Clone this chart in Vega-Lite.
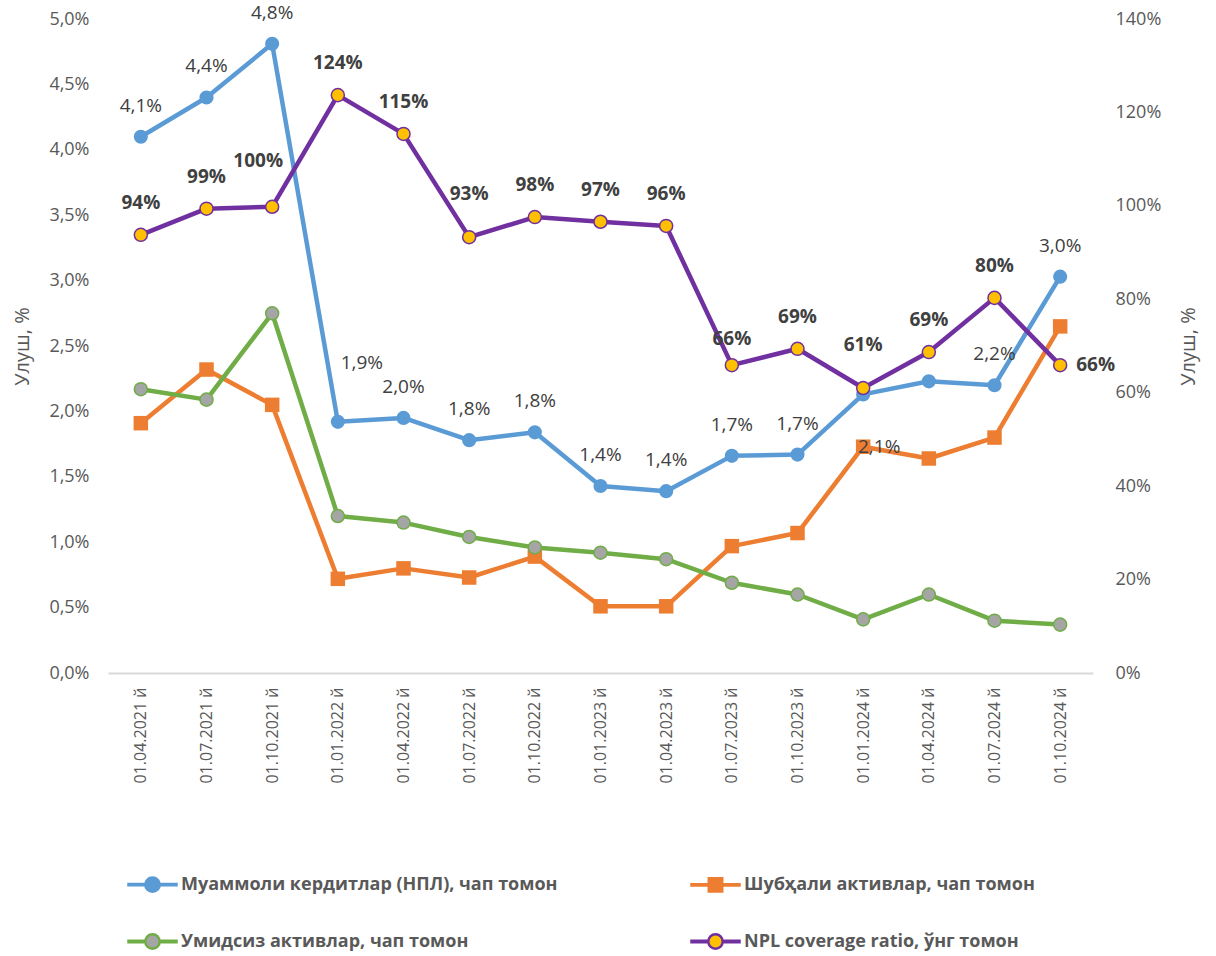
{
  "$schema": "https://vega.github.io/schema/vega-lite/v6.json",
  "width": 985,
  "height": 654,
  "autosize": {"type": "none"},
  "padding": {"left": 108, "top": 19, "right": 123, "bottom": 283},
  "background": "white",
  "config": {
    "locale": {"number": {"decimal": ",", "thousands": " ", "grouping": [3], "currency": ["", ""]}},
    "view": {"stroke": null},
    "font": "Open Sans",
    "axis": {"grid": false, "ticks": false, "labelFont": "Open Sans", "labelColor": "#595959", "titleColor": "#595959", "titleFont": "Open Sans", "titleFontWeight": "normal"},
    "legend": {
      "orient": "none", "legendX": 19, "legendY": 840, "direction": "horizontal", "columns": 2,
      "columnPadding": 128, "rowPadding": 19, "padding": 0, "labelLimit": 600,
      "labelFont": "Open Sans", "labelFontWeight": "bold", "labelFontSize": 18, "labelColor": "#595959",
      "symbolSize": 2304, "labelOffset": 3, "symbolStrokeWidth": 2.5, "symbolOpacity": 1
    }
  },
  "data": {"values": [
    {"date": "01.04.2021 й", "series": "Муаммоли кердитлар (НПЛ), чап томон", "value": 4.10, "label": "4,1%"},
    {"date": "01.07.2021 й", "series": "Муаммоли кердитлар (НПЛ), чап томон", "value": 4.40, "label": "4,4%"},
    {"date": "01.10.2021 й", "series": "Муаммоли кердитлар (НПЛ), чап томон", "value": 4.81, "label": "4,8%"},
    {"date": "01.01.2022 й", "series": "Муаммоли кердитлар (НПЛ), чап томон", "value": 1.92, "label": "1,9%"},
    {"date": "01.04.2022 й", "series": "Муаммоли кердитлар (НПЛ), чап томон", "value": 1.95, "label": "2,0%"},
    {"date": "01.07.2022 й", "series": "Муаммоли кердитлар (НПЛ), чап томон", "value": 1.78, "label": "1,8%"},
    {"date": "01.10.2022 й", "series": "Муаммоли кердитлар (НПЛ), чап томон", "value": 1.84, "label": "1,8%"},
    {"date": "01.01.2023 й", "series": "Муаммоли кердитлар (НПЛ), чап томон", "value": 1.43, "label": "1,4%"},
    {"date": "01.04.2023 й", "series": "Муаммоли кердитлар (НПЛ), чап томон", "value": 1.39, "label": "1,4%"},
    {"date": "01.07.2023 й", "series": "Муаммоли кердитлар (НПЛ), чап томон", "value": 1.66, "label": "1,7%"},
    {"date": "01.10.2023 й", "series": "Муаммоли кердитлар (НПЛ), чап томон", "value": 1.67, "label": "1,7%"},
    {"date": "01.01.2024 й", "series": "Муаммоли кердитлар (НПЛ), чап томон", "value": 2.13, "label": "2,1%"},
    {"date": "01.04.2024 й", "series": "Муаммоли кердитлар (НПЛ), чап томон", "value": 2.23, "label": ""},
    {"date": "01.07.2024 й", "series": "Муаммоли кердитлар (НПЛ), чап томон", "value": 2.20, "label": "2,2%"},
    {"date": "01.10.2024 й", "series": "Муаммоли кердитлар (НПЛ), чап томон", "value": 3.03, "label": "3,0%"},
    {"date": "01.04.2021 й", "series": "Шубҳали активлар, чап томон", "value": 1.91, "label": ""},
    {"date": "01.07.2021 й", "series": "Шубҳали активлар, чап томон", "value": 2.32, "label": ""},
    {"date": "01.10.2021 й", "series": "Шубҳали активлар, чап томон", "value": 2.05, "label": ""},
    {"date": "01.01.2022 й", "series": "Шубҳали активлар, чап томон", "value": 0.72, "label": ""},
    {"date": "01.04.2022 й", "series": "Шубҳали активлар, чап томон", "value": 0.80, "label": ""},
    {"date": "01.07.2022 й", "series": "Шубҳали активлар, чап томон", "value": 0.73, "label": ""},
    {"date": "01.10.2022 й", "series": "Шубҳали активлар, чап томон", "value": 0.89, "label": ""},
    {"date": "01.01.2023 й", "series": "Шубҳали активлар, чап томон", "value": 0.51, "label": ""},
    {"date": "01.04.2023 й", "series": "Шубҳали активлар, чап томон", "value": 0.51, "label": ""},
    {"date": "01.07.2023 й", "series": "Шубҳали активлар, чап томон", "value": 0.97, "label": ""},
    {"date": "01.10.2023 й", "series": "Шубҳали активлар, чап томон", "value": 1.07, "label": ""},
    {"date": "01.01.2024 й", "series": "Шубҳали активлар, чап томон", "value": 1.73, "label": ""},
    {"date": "01.04.2024 й", "series": "Шубҳали активлар, чап томон", "value": 1.64, "label": ""},
    {"date": "01.07.2024 й", "series": "Шубҳали активлар, чап томон", "value": 1.80, "label": ""},
    {"date": "01.10.2024 й", "series": "Шубҳали активлар, чап томон", "value": 2.65, "label": ""},
    {"date": "01.04.2021 й", "series": "Умидсиз активлар, чап томон", "value": 2.17, "label": ""},
    {"date": "01.07.2021 й", "series": "Умидсиз активлар, чап томон", "value": 2.09, "label": ""},
    {"date": "01.10.2021 й", "series": "Умидсиз активлар, чап томон", "value": 2.75, "label": ""},
    {"date": "01.01.2022 й", "series": "Умидсиз активлар, чап томон", "value": 1.20, "label": ""},
    {"date": "01.04.2022 й", "series": "Умидсиз активлар, чап томон", "value": 1.15, "label": ""},
    {"date": "01.07.2022 й", "series": "Умидсиз активлар, чап томон", "value": 1.04, "label": ""},
    {"date": "01.10.2022 й", "series": "Умидсиз активлар, чап томон", "value": 0.96, "label": ""},
    {"date": "01.01.2023 й", "series": "Умидсиз активлар, чап томон", "value": 0.92, "label": ""},
    {"date": "01.04.2023 й", "series": "Умидсиз активлар, чап томон", "value": 0.87, "label": ""},
    {"date": "01.07.2023 й", "series": "Умидсиз активлар, чап томон", "value": 0.69, "label": ""},
    {"date": "01.10.2023 й", "series": "Умидсиз активлар, чап томон", "value": 0.60, "label": ""},
    {"date": "01.01.2024 й", "series": "Умидсиз активлар, чап томон", "value": 0.41, "label": ""},
    {"date": "01.04.2024 й", "series": "Умидсиз активлар, чап томон", "value": 0.60, "label": ""},
    {"date": "01.07.2024 й", "series": "Умидсиз активлар, чап томон", "value": 0.40, "label": ""},
    {"date": "01.10.2024 й", "series": "Умидсиз активлар, чап томон", "value": 0.37, "label": ""},
    {"date": "01.04.2021 й", "series": "NPL coverage ratio, ўнг томон", "value": 93.8, "label": "94%"},
    {"date": "01.07.2021 й", "series": "NPL coverage ratio, ўнг томон", "value": 99.4, "label": "99%"},
    {"date": "01.10.2021 й", "series": "NPL coverage ratio, ўнг томон", "value": 99.8, "label": "100%"},
    {"date": "01.01.2022 й", "series": "NPL coverage ratio, ўнг томон", "value": 123.7, "label": "124%"},
    {"date": "01.04.2022 й", "series": "NPL coverage ratio, ўнг томон", "value": 115.4, "label": "115%"},
    {"date": "01.07.2022 й", "series": "NPL coverage ratio, ўнг томон", "value": 93.3, "label": "93%"},
    {"date": "01.10.2022 й", "series": "NPL coverage ratio, ўнг томон", "value": 97.6, "label": "98%"},
    {"date": "01.01.2023 й", "series": "NPL coverage ratio, ўнг томон", "value": 96.6, "label": "97%"},
    {"date": "01.04.2023 й", "series": "NPL coverage ratio, ўнг томон", "value": 95.7, "label": "96%"},
    {"date": "01.07.2023 й", "series": "NPL coverage ratio, ўнг томон", "value": 65.9, "label": "66%"},
    {"date": "01.10.2023 й", "series": "NPL coverage ratio, ўнг томон", "value": 69.4, "label": "69%"},
    {"date": "01.01.2024 й", "series": "NPL coverage ratio, ўнг томон", "value": 61.0, "label": "61%"},
    {"date": "01.04.2024 й", "series": "NPL coverage ratio, ўнг томон", "value": 68.7, "label": "69%"},
    {"date": "01.07.2024 й", "series": "NPL coverage ratio, ўнг томон", "value": 80.3, "label": "80%"},
    {"date": "01.10.2024 й", "series": "NPL coverage ratio, ўнг томон", "value": 65.9, "label": "66%"}
  ]},
  "encoding": {
    "x": {
      "field": "date", "type": "ordinal", "sort": null,
      "axis": {"title": null, "labelAngle": -90, "labelFontSize": 16, "labelPadding": 14, "domainColor": "#d9d9d9", "domainWidth": 2, "labelColor": "#595959"}
    }
  },
  "layer": [
    {
      "encoding": {
        "y": {
          "field": "value", "type": "quantitative",
          "scale": {"domain": [0, 5]},
          "axis": {"title": "Улуш, %", "values": [0, 0.5, 1, 1.5, 2, 2.5, 3, 3.5, 4, 4.5, 5], "format": ".1f", "labelExpr": "datum.label + '%'", "labelFontSize": 18, "labelPadding": 19, "domain": false, "titleFontSize": 20, "titlePadding": 16}
        }
      },
      "layer": [
        {
          "transform": [{"filter": "datum.date === '01.04.2021 й'"}],
          "mark": {"type": "point", "filled": true, "opacity": 0},
          "encoding": {
            "fill": {
              "field": "series", "type": "nominal",
              "scale": {
                "domain": ["Муаммоли кердитлар (НПЛ), чап томон", "Шубҳали активлар, чап томон", "Умидсиз активлар, чап томон", "NPL coverage ratio, ўнг томон"],
                "range": ["#5B9BD5", "#ED7D31", "#A5A5A5", "#FFC000"]
              },
              "legend": {"title": null}
            },
            "stroke": {
              "field": "series", "type": "nominal",
              "scale": {
                "domain": ["Муаммоли кердитлар (НПЛ), чап томон", "Шубҳали активлар, чап томон", "Умидсиз активлар, чап томон", "NPL coverage ratio, ўнг томон"],
                "range": ["#5B9BD5", "#ED7D31", "#70AD47", "#7030A0"]
              },
              "legend": {"title": null}
            },
            "shape": {
              "field": "series", "type": "nominal",
              "scale": {
                "domain": ["Муаммоли кердитлар (НПЛ), чап томон", "Шубҳали активлар, чап томон", "Умидсиз активлар, чап томон", "NPL coverage ratio, ўнг томон"],
                "range": [
                  "M-1,-0.03L-0.3,-0.03L-0.3,0.03L-1,0.03Z M0.3,-0.03L1,-0.03L1,0.03L0.3,0.03Z M-0.3,0A0.3,0.3 0 1,0 0.3,0A0.3,0.3 0 1,0 -0.3,0Z",
                  "M-1,-0.03L-0.28,-0.03L-0.28,0.03L-1,0.03Z M0.28,-0.03L1,-0.03L1,0.03L0.28,0.03Z M-0.28,-0.28L0.28,-0.28L0.28,0.28L-0.28,0.28Z",
                  "M-1,-0.03L-0.3,-0.03L-0.3,0.03L-1,0.03Z M0.3,-0.03L1,-0.03L1,0.03L0.3,0.03Z M-0.3,0A0.3,0.3 0 1,0 0.3,0A0.3,0.3 0 1,0 -0.3,0Z",
                  "M-1,-0.03L-0.3,-0.03L-0.3,0.03L-1,0.03Z M0.3,-0.03L1,-0.03L1,0.03L0.3,0.03Z M-0.3,0A0.3,0.3 0 1,0 0.3,0A0.3,0.3 0 1,0 -0.3,0Z"
                ]
              },
              "legend": {"title": null}
            }
          }
        },
        {
          "transform": [{"filter": "datum.series === 'Муаммоли кердитлар (НПЛ), чап томон'"}],
          "mark": {"type": "line", "strokeWidth": 4.5, "strokeJoin": "round", "strokeCap": "round", "color": "#5B9BD5"}
        },
        {
          "transform": [{"filter": "datum.series === 'Шубҳали активлар, чап томон'"}],
          "mark": {"type": "line", "strokeWidth": 4.5, "strokeJoin": "round", "strokeCap": "round", "color": "#ED7D31"}
        },
        {
          "transform": [{"filter": "datum.series === 'Умидсиз активлар, чап томон'"}],
          "mark": {"type": "line", "strokeWidth": 4.5, "strokeJoin": "round", "strokeCap": "round", "color": "#70AD47"}
        },
        {
          "transform": [{"filter": "datum.series === 'Муаммоли кердитлар (НПЛ), чап томон'"}],
          "mark": {"type": "point", "shape": "circle", "filled": true, "size": 200, "color": "#5B9BD5", "opacity": 1}
        },
        {
          "transform": [{"filter": "datum.series === 'Шубҳали активлар, чап томон'"}],
          "mark": {"type": "point", "shape": "square", "filled": true, "size": 210, "color": "#ED7D31", "opacity": 1}
        },
        {
          "transform": [{"filter": "datum.series === 'Умидсиз активлар, чап томон'"}],
          "mark": {"type": "point", "shape": "circle", "filled": true, "size": 170, "fill": "#A5A5A5", "stroke": "#70AD47", "strokeWidth": 1.5, "opacity": 1}
        },
        {
          "transform": [{"filter": "datum.series === 'Муаммоли кердитлар (НПЛ), чап томон' && datum.label !== '' && datum.date !== '01.01.2022 й' && datum.date !== '01.01.2024 й'"}],
          "mark": {"type": "text", "fontSize": 19, "font": "Open Sans", "color": "#404040", "baseline": "middle", "dy": -31},
          "encoding": {"text": {"field": "label"}}
        },
        {
          "transform": [{"filter": "datum.series === 'Муаммоли кердитлар (НПЛ), чап томон' && datum.date === '01.01.2022 й'"}],
          "mark": {"type": "text", "fontSize": 19, "font": "Open Sans", "color": "#404040", "baseline": "middle", "dx": 24, "dy": -59},
          "encoding": {"text": {"field": "label"}}
        },
        {
          "transform": [{"filter": "datum.series === 'Муаммоли кердитлар (НПЛ), чап томон' && datum.date === '01.01.2024 й'"}],
          "mark": {"type": "text", "fontSize": 19, "font": "Open Sans", "color": "#404040", "baseline": "middle", "dx": 16, "dy": 53},
          "encoding": {"text": {"field": "label"}}
        }
      ]
    },
    {
      "transform": [{"filter": "datum.series === 'NPL coverage ratio, ўнг томон'"}],
      "encoding": {
        "y": {
          "field": "value", "type": "quantitative",
          "scale": {"domain": [0, 140]},
          "axis": {"orient": "right", "title": "Улуш, %", "values": [0, 20, 40, 60, 80, 100, 120, 140], "format": "d", "labelExpr": "datum.label + '%'", "labelFontSize": 18, "labelPadding": 22, "domain": false, "titleFontSize": 20, "titlePadding": 18, "titleAngle": 270, "titleBaseline": "top"}
        }
      },
      "layer": [
        {
          "mark": {"type": "line", "strokeWidth": 4.5, "strokeJoin": "round", "strokeCap": "round", "color": "#7030A0"}
        },
        {
          "mark": {"type": "point", "shape": "circle", "filled": true, "size": 170, "fill": "#FFC000", "stroke": "#7030A0", "strokeWidth": 1.5, "opacity": 1}
        },
        {
          "transform": [{"filter": "datum.date !== '01.10.2021 й' && datum.date !== '01.07.2022 й' && datum.date !== '01.01.2024 й' && datum.date !== '01.10.2024 й' && datum.date !== '01.07.2023 й'"}],
          "mark": {"type": "text", "fontSize": 19, "font": "Open Sans", "fontWeight": "bold", "color": "#404040", "baseline": "middle", "dy": -32},
          "encoding": {"text": {"field": "label"}}
        },
        {
          "transform": [{"filter": "datum.date === '01.10.2021 й'"}],
          "mark": {"type": "text", "fontSize": 19, "font": "Open Sans", "fontWeight": "bold", "color": "#404040", "baseline": "middle", "dx": -14, "dy": -46},
          "encoding": {"text": {"field": "label"}}
        },
        {
          "transform": [{"filter": "datum.date === '01.07.2022 й' || datum.date === '01.01.2024 й'"}],
          "mark": {"type": "text", "fontSize": 19, "font": "Open Sans", "fontWeight": "bold", "color": "#404040", "baseline": "middle", "dy": -43},
          "encoding": {"text": {"field": "label"}}
        },
        {
          "transform": [{"filter": "datum.date === '01.07.2023 й'"}],
          "mark": {"type": "text", "fontSize": 19, "font": "Open Sans", "fontWeight": "bold", "color": "#404040", "baseline": "middle", "dy": -26},
          "encoding": {"text": {"field": "label"}}
        },
        {
          "transform": [{"filter": "datum.date === '01.10.2024 й'"}],
          "mark": {"type": "text", "fontSize": 19, "font": "Open Sans", "fontWeight": "bold", "color": "#404040", "baseline": "middle", "align": "left", "dx": 16, "dy": 0},
          "encoding": {"text": {"field": "label"}}
        }
      ]
    }
  ],
  "resolve": {"scale": {"y": "independent"}}
}
